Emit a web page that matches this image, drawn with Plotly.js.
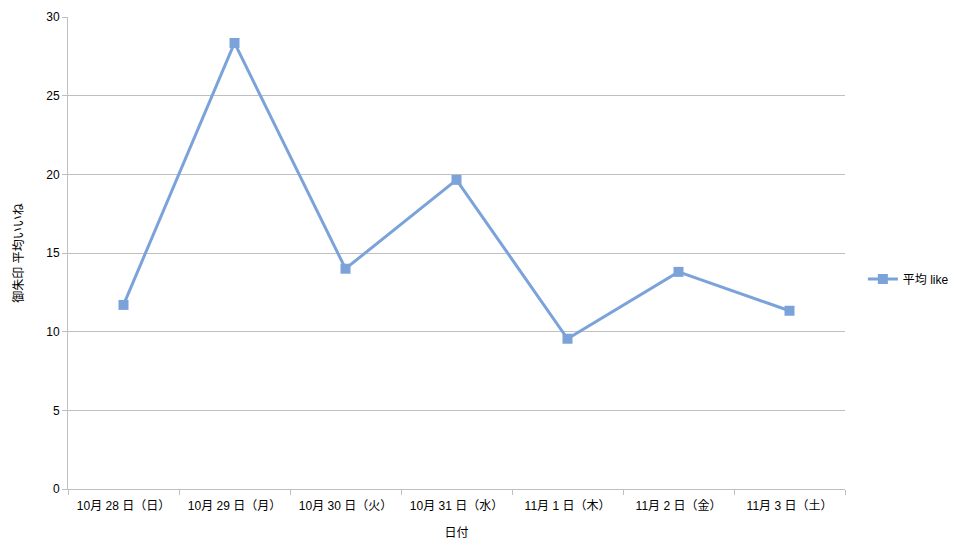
<!DOCTYPE html>
<html>
<head>
<meta charset="utf-8">
<script src="https://cdn.plot.ly/plotly-3.0.1.min.js"></script>
<style>html,body{margin:0;padding:0;background:#fff;}#chart{width:955px;height:551px;}</style>
</head>
<body>
<div id="chart"></div>
<script>
const categories = ["10月 28 日（日）", "10月 29 日（月）", "10月 30 日（火）", "10月 31 日（水）", "11月 1 日（木）", "11月 2 日（金）", "11月 3 日（土）"];
const avgLike = [11.7, 28.35, 14.0, 19.65, 9.55, 13.8, 11.33];
const seriesName = "平均 like";
const yTickVals = [0, 5, 10, 15, 20, 25, 30];

const FONT = "Arial, 'Liberation Sans', 'Noto Sans CJK JP', sans-serif";
const color = "#7BA3DA";

Plotly.newPlot("chart", [{
  type: "scatter",
  mode: "lines+markers",
  x: categories,
  y: avgLike,
  name: seriesName,
  line: {color: color, width: 3},
  marker: {symbol: "square", size: 10, color: color}
}], {
  width: 955, height: 551,
  margin: {l: 68, r: 110, t: 17, b: 62, autoexpand: false},
  paper_bgcolor: "#fff", plot_bgcolor: "#fff",
  font: {family: FONT, size: 12, color: "#000"},
  showlegend: true,
  legend: {x: 1.023, y: 0.445, xanchor: "left", yanchor: "middle", font: {size: 12}, itemwidth: 30},
  xaxis: {
    type: "category",
    range: [-0.5, categories.length - 0.5],
    tickson: "boundaries",
    ticks: "outside", ticklen: 5, tickcolor: "#bfbfbf",
    ticklabelstandoff: 6,
    showgrid: false,
    showline: true, linecolor: "#bfbfbf", linewidth: 1,
    title: {text: "日付", font: {size: 12}, standoff: 16},
    tickfont: {size: 12}
  },
  yaxis: {
    range: [0, 30],
    tickvals: yTickVals,
    ticks: "outside", ticklen: 5, tickcolor: "#bfbfbf",
    showgrid: true, gridcolor: "#bfbfbf", gridwidth: 1,
    showline: true, linecolor: "#bfbfbf",
    zeroline: false,
    title: {text: "御朱印 平均いいね", font: {size: 12}, standoff: 20},
    tickfont: {size: 12}
  }
}, {displayModeBar: false, staticPlot: true});
</script>
</body>
</html>
